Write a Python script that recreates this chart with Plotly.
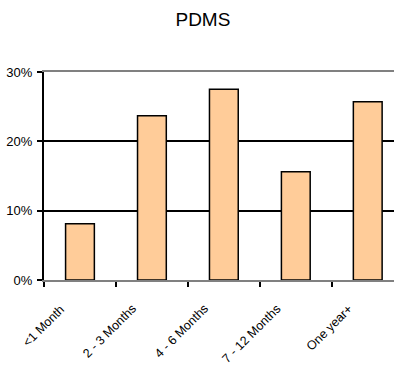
import plotly.graph_objects as go

categories = ["<1 Month", "2 - 3 Months", "4 - 6 Months", "7 - 12 Months", "One year+"]
values = [8.1, 23.7, 27.5, 15.6, 25.7]
y_ticks = [0, 10, 20, 30]
y_tick_labels = ["0%", "10%", "20%", "30%"]

fig = go.Figure()
fig.add_trace(go.Bar(
    x=categories, y=values, width=0.4,
    marker=dict(color="#FFCC99", line=dict(color="black", width=1.5)),
))

# rotated category labels
for c in categories:
    fig.add_annotation(
        x=c, y=0, xref="x", yref="y", text=c, showarrow=False,
        textangle=-45, xanchor="right", yanchor="top",
        xshift=-10, yshift=-19, font=dict(size=12.5, color="black"),
    )

fig.update_layout(
    width=394, height=374,
    margin=dict(l=44, r=0, t=72, b=94),
    paper_bgcolor="white", plot_bgcolor="white",
    showlegend=False,
    font=dict(family="Liberation Sans, Arial, sans-serif", color="black"),
    title=dict(text="PDMS", x=0.515, xanchor="center", y=0.948, yanchor="middle",
               font=dict(size=19, color="black")),
)
fig.update_xaxes(
    type="category", range=[-0.5, 4.365],
    showline=True, linecolor="#808080", linewidth=2, mirror=True,
    showgrid=False, zeroline=False, showticklabels=False,
    tickson="boundaries", ticks="outside", ticklen=5, tickcolor="black", tickwidth=2,
)
fig.update_yaxes(
    range=[0, 30], tickvals=y_ticks, ticktext=y_tick_labels,
    showline=True, linecolor="black", linewidth=2,
    showgrid=True, gridcolor="black", gridwidth=1.5,
    zeroline=False, ticks="outside", ticklen=5, tickcolor="black", tickwidth=2,
    tickfont=dict(size=13), ticklabelstandoff=2,
)
fig.write_html("out.html")
